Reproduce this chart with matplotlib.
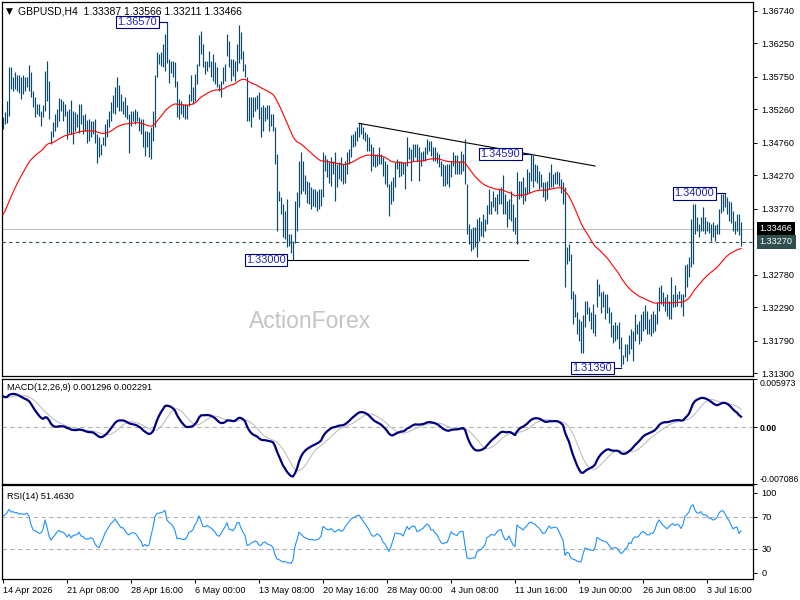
import numpy as np
import matplotlib
matplotlib.use("Agg")
import matplotlib.pyplot as plt
import matplotlib.transforms as mtransforms

#======================
# data (GBPUSD H4 bars)
#======================
highs = [
1.3515, 1.3522, 1.3539, 1.3589, 1.3589, 1.3574, 1.3582, 1.3577, 1.3577, 1.3574,
1.3577, 1.3574, 1.3574, 1.3593, 1.3582, 1.3554, 1.3544, 1.3534, 1.3534, 1.3524,
1.3532, 1.3584, 1.3599, 1.3569, 1.3494, 1.3507, 1.3519, 1.3527, 1.3543, 1.3542,
1.3539, 1.3534, 1.3524, 1.3527, 1.3540, 1.3524, 1.3522, 1.3519, 1.3534, 1.3534,
1.3517, 1.3519, 1.3510, 1.3512, 1.3509, 1.3509, 1.3512, 1.3489, 1.3484, 1.3474,
1.3484, 1.3504, 1.3512, 1.3524, 1.3537, 1.3547, 1.3559, 1.3575, 1.3562, 1.3549,
1.3539, 1.3544, 1.3532, 1.3519, 1.3524, 1.3524, 1.3527, 1.3524, 1.3514, 1.3512,
1.3512, 1.3494, 1.3494, 1.3492, 1.3499, 1.3524, 1.3577, 1.3612, 1.3609, 1.3612,
1.3624, 1.3639, 1.3657, 1.3602, 1.3599, 1.3599, 1.3597, 1.3569, 1.3542, 1.3539,
1.3534, 1.3534, 1.3532, 1.3549, 1.3577, 1.3559, 1.3579, 1.3594, 1.3637, 1.3644,
1.3624, 1.3599, 1.3599, 1.3614, 1.3599, 1.3609, 1.3597, 1.3589, 1.3564, 1.3569,
1.3589, 1.3594, 1.3639, 1.3629, 1.3602, 1.3602, 1.3599, 1.3624, 1.3652, 1.3642,
1.3614, 1.3594, 1.3574, 1.3544, 1.3544, 1.3544, 1.3544, 1.3547, 1.3552, 1.3529,
1.3532, 1.3529, 1.3532, 1.3532, 1.3519, 1.3519, 1.3499, 1.3459, 1.3404, 1.3394,
1.3384, 1.3374, 1.3392, 1.3339, 1.3339, 1.3329, 1.3389, 1.3402, 1.3449, 1.3462,
1.3449, 1.3427, 1.3419, 1.3417, 1.3409, 1.3407, 1.3407, 1.3404, 1.3407, 1.3407,
1.3462, 1.3457, 1.3452, 1.3449, 1.3454, 1.3449, 1.3462, 1.3444, 1.3447, 1.3454,
1.3444, 1.3449, 1.3462, 1.3467, 1.3487, 1.3489, 1.3494, 1.3499, 1.3505, 1.3505,
1.3499, 1.3492, 1.3489, 1.3484, 1.3474, 1.3469, 1.3459, 1.3459, 1.3469, 1.3459,
1.3454, 1.3449, 1.3444, 1.3414, 1.3419, 1.3424, 1.3447, 1.3452, 1.3449, 1.3449,
1.3447, 1.3447, 1.3484, 1.3469, 1.3467, 1.3474, 1.3474, 1.3474, 1.3469, 1.3462,
1.3464, 1.3469, 1.3482, 1.3479, 1.3479, 1.3469, 1.3469, 1.3462, 1.3459, 1.3449,
1.3444, 1.3442, 1.3444, 1.3444, 1.3449, 1.3462, 1.3457, 1.3457, 1.3449, 1.3464,
1.3459, 1.3482, 1.3414, 1.3354, 1.3347, 1.3349, 1.3349, 1.3362, 1.3364, 1.3359,
1.3369, 1.3362, 1.3382, 1.3407, 1.3389, 1.3404, 1.3394, 1.3399, 1.3407, 1.3409,
1.3427, 1.3399, 1.3389, 1.3392, 1.3404, 1.3384, 1.3364, 1.3432, 1.3419, 1.3419,
1.3424, 1.3409, 1.3437, 1.3432, 1.3459, 1.3457, 1.3444, 1.3442, 1.3434, 1.3429,
1.3417, 1.3417, 1.3419, 1.3432, 1.3444, 1.3429, 1.3432, 1.3434, 1.3432, 1.3422,
1.3417, 1.3409, 1.3319, 1.3324, 1.3309, 1.3254, 1.3249, 1.3222, 1.3212, 1.3209,
1.3217, 1.3239, 1.3239, 1.3229, 1.3222, 1.3234, 1.3219, 1.3272, 1.3264, 1.3252,
1.3254, 1.3249, 1.3249, 1.3229, 1.3222, 1.3202, 1.3207, 1.3202, 1.3207, 1.3184,
1.3157, 1.3174, 1.3174, 1.3187, 1.3197, 1.3194, 1.3219, 1.3204, 1.3209, 1.3219,
1.3224, 1.3232, 1.3224, 1.3212, 1.3219, 1.3224, 1.3219, 1.3237, 1.3259, 1.3262,
1.3252, 1.3244, 1.3249, 1.3239, 1.3274, 1.3249, 1.3262, 1.3249, 1.3254, 1.3249,
1.3249, 1.3292, 1.3294, 1.3304, 1.3362, 1.3384, 1.3384, 1.3364, 1.3354, 1.3364,
1.3379, 1.3364, 1.3359, 1.3357, 1.3354, 1.3357, 1.3352, 1.3354, 1.3377, 1.3399,
1.3399, 1.3400, 1.3394, 1.3389, 1.3387, 1.3374, 1.3359, 1.3369, 1.3369, 1.33566]

lows = [
1.3496, 1.3504, 1.3506, 1.3516, 1.3556, 1.3554, 1.3556, 1.3554, 1.3551, 1.3541,
1.3549, 1.3554, 1.3559, 1.3554, 1.3544, 1.3529, 1.3514, 1.3519, 1.3516, 1.3501,
1.3514, 1.3524, 1.3539, 1.3511, 1.3474, 1.3484, 1.3494, 1.3499, 1.3509, 1.3524,
1.3509, 1.3516, 1.3481, 1.3491, 1.3489, 1.3474, 1.3494, 1.3499, 1.3491, 1.3504,
1.3489, 1.3494, 1.3476, 1.3479, 1.3484, 1.3489, 1.3476, 1.3445, 1.3454, 1.3458,
1.3473, 1.3471, 1.3484, 1.3499, 1.3509, 1.3521, 1.3519, 1.3529, 1.3524, 1.3524,
1.3519, 1.3514, 1.3511, 1.3461, 1.3501, 1.3509, 1.3504, 1.3509, 1.3494, 1.3489,
1.3469, 1.3456, 1.3469, 1.3454, 1.3451, 1.3479, 1.3499, 1.3574, 1.3594, 1.3591,
1.3589, 1.3584, 1.3596, 1.3566, 1.3581, 1.3574, 1.3559, 1.3514, 1.3511, 1.3519,
1.3514, 1.3511, 1.3511, 1.3531, 1.3539, 1.3534, 1.3539, 1.3564, 1.3591, 1.3609,
1.3589, 1.3579, 1.3584, 1.3589, 1.3574, 1.3569, 1.3564, 1.3559, 1.3554, 1.3544,
1.3564, 1.3569, 1.3606, 1.3589, 1.3569, 1.3576, 1.3569, 1.3584, 1.3596, 1.3601,
1.3584, 1.3574, 1.3509, 1.3509, 1.3499, 1.3514, 1.3524, 1.3526, 1.3511, 1.3484,
1.3494, 1.3509, 1.3511, 1.3494, 1.3501, 1.3494, 1.3444, 1.3344, 1.3389, 1.3369,
1.3334, 1.3331, 1.3319, 1.3321, 1.3311, 1.3300, 1.3326, 1.3344, 1.3379, 1.3399,
1.3404, 1.3399, 1.3386, 1.3384, 1.3376, 1.3381, 1.3379, 1.3374, 1.3376, 1.3381,
1.3394, 1.3434, 1.3424, 1.3416, 1.3411, 1.3429, 1.3389, 1.3409, 1.3421, 1.3419,
1.3414, 1.3416, 1.3429, 1.3444, 1.3454, 1.3469, 1.3471, 1.3479, 1.3484, 1.3489,
1.3481, 1.3479, 1.3464, 1.3464, 1.3434, 1.3441, 1.3439, 1.3441, 1.3444, 1.3444,
1.3426, 1.3414, 1.3409, 1.3366, 1.3384, 1.3389, 1.3409, 1.3436, 1.3424, 1.3426,
1.3429, 1.3406, 1.3441, 1.3451, 1.3419, 1.3449, 1.3454, 1.3449, 1.3419, 1.3441,
1.3449, 1.3449, 1.3459, 1.3464, 1.3456, 1.3449, 1.3449, 1.3446, 1.3439, 1.3426,
1.3411, 1.3411, 1.3414, 1.3409, 1.3424, 1.3441, 1.3429, 1.3429, 1.3429, 1.3429,
1.3434, 1.3414, 1.3339, 1.3324, 1.3314, 1.3316, 1.3319, 1.3304, 1.3329, 1.3336,
1.3334, 1.3344, 1.3354, 1.3369, 1.3369, 1.3379, 1.3374, 1.3369, 1.3384, 1.3384,
1.3369, 1.3369, 1.3349, 1.3361, 1.3359, 1.3344, 1.3339, 1.3324, 1.3391, 1.3394,
1.3384, 1.3389, 1.3399, 1.3401, 1.3419, 1.3409, 1.3419, 1.3416, 1.3406, 1.3409,
1.3394, 1.3389, 1.3391, 1.3406, 1.3409, 1.3409, 1.3414, 1.3414, 1.3411, 1.3401,
1.3384, 1.3259, 1.3294, 1.3299, 1.3241, 1.3204, 1.3214, 1.3189, 1.3179, 1.3161,
1.3161, 1.3199, 1.3219, 1.3209, 1.3196, 1.3191, 1.3186, 1.3229, 1.3246, 1.3221,
1.3229, 1.3211, 1.3221, 1.3206, 1.3184, 1.3176, 1.3179, 1.3181, 1.3166, 1.3139,
1.3144, 1.3154, 1.3149, 1.3159, 1.3166, 1.3149, 1.3179, 1.3189, 1.3174, 1.3179,
1.3194, 1.3196, 1.3189, 1.3189, 1.3186, 1.3191, 1.3194, 1.3204, 1.3224, 1.3234,
1.3231, 1.3224, 1.3216, 1.3211, 1.3211, 1.3229, 1.3229, 1.3231, 1.3241, 1.3229,
1.3216, 1.3244, 1.3259, 1.3274, 1.3289, 1.3294, 1.3339, 1.3344, 1.3334, 1.3344,
1.3344, 1.3339, 1.3344, 1.3341, 1.3329, 1.3334, 1.3329, 1.3339, 1.3339, 1.3371,
1.3374, 1.3379, 1.3369, 1.3359, 1.3356, 1.3344, 1.3339, 1.3344, 1.3337, 1.33211]

closes = [
1.3510, 1.3520, 1.3537, 1.3573, 1.3565, 1.3568, 1.3565, 1.3566, 1.3562, 1.3566,
1.3564, 1.3566, 1.3572, 1.3565, 1.3545, 1.3530, 1.3526, 1.3524, 1.3518, 1.3520,
1.3530, 1.3570, 1.3548, 1.3512, 1.3490, 1.3502, 1.3512, 1.3524, 1.3532, 1.3526,
1.3525, 1.3518, 1.3505, 1.3515, 1.3500, 1.3508, 1.3510, 1.3512, 1.3520, 1.3506,
1.3505, 1.3496, 1.3495, 1.3496, 1.3499, 1.3494, 1.3478, 1.3466, 1.3462, 1.3472,
1.3482, 1.3498, 1.3508, 1.3520, 1.3532, 1.3540, 1.3552, 1.3545, 1.3538, 1.3530,
1.3530, 1.3522, 1.3514, 1.3510, 1.3515, 1.3516, 1.3515, 1.3510, 1.3500, 1.3494,
1.3476, 1.3480, 1.3474, 1.3476, 1.3496, 1.3520, 1.3575, 1.3600, 1.3602, 1.3606,
1.3612, 1.3626, 1.3598, 1.3590, 1.3586, 1.3578, 1.3562, 1.3525, 1.3528, 1.3524,
1.3522, 1.3521, 1.3530, 1.3546, 1.3548, 1.3556, 1.3576, 1.3592, 1.3628, 1.3612,
1.3592, 1.3590, 1.3597, 1.3592, 1.3588, 1.3582, 1.3574, 1.3562, 1.3558, 1.3566,
1.3580, 1.3592, 1.3612, 1.3590, 1.3588, 1.3585, 1.3596, 1.3620, 1.3622, 1.3604,
1.3588, 1.3576, 1.3520, 1.3522, 1.3528, 1.3532, 1.3536, 1.3532, 1.3514, 1.3512,
1.3520, 1.3522, 1.3514, 1.3510, 1.3506, 1.3496, 1.3446, 1.3400, 1.3390, 1.3372,
1.3350, 1.3352, 1.3330, 1.3326, 1.3316, 1.3325, 1.3370, 1.3398, 1.3440, 1.3428,
1.3414, 1.3404, 1.3400, 1.3394, 1.3393, 1.3392, 1.3390, 1.3392, 1.3394, 1.3404,
1.3445, 1.3440, 1.3434, 1.3432, 1.3438, 1.3432, 1.3426, 1.3432, 1.3436, 1.3430,
1.3432, 1.3444, 1.3455, 1.3465, 1.3478, 1.3483, 1.3488, 1.3494, 1.3498, 1.3492,
1.3486, 1.3480, 1.3474, 1.3466, 1.3454, 1.3449, 1.3450, 1.3455, 1.3452, 1.3446,
1.3432, 1.3426, 1.3412, 1.3395, 1.3405, 1.3420, 1.3440, 1.3440, 1.3438, 1.3438,
1.3432, 1.3444, 1.3460, 1.3452, 1.3460, 1.3464, 1.3462, 1.3450, 1.3452, 1.3456,
1.3459, 1.3466, 1.3472, 1.3469, 1.3460, 1.3460, 1.3454, 1.3450, 1.3440, 1.3430,
1.3426, 1.3428, 1.3428, 1.3436, 1.3448, 1.3444, 1.3442, 1.3440, 1.3446, 1.3448,
1.3448, 1.3416, 1.3342, 1.3332, 1.3332, 1.3334, 1.3332, 1.3345, 1.3348, 1.3350,
1.3354, 1.3360, 1.3378, 1.3380, 1.3386, 1.3384, 1.3384, 1.3392, 1.3396, 1.3398,
1.3384, 1.3372, 1.3372, 1.3380, 1.3366, 1.3352, 1.3345, 1.3416, 1.3408, 1.3404,
1.3398, 1.3408, 1.3416, 1.3430, 1.3434, 1.3430, 1.3428, 1.3422, 1.3418, 1.3410,
1.3402, 1.3404, 1.3414, 1.3426, 1.3420, 1.3422, 1.3424, 1.3422, 1.3414, 1.3402,
1.3390, 1.3300, 1.3310, 1.3300, 1.3245, 1.3225, 1.3218, 1.3195, 1.3186, 1.3180,
1.3205, 1.3228, 1.3222, 1.3212, 1.3210, 1.3205, 1.3215, 1.3255, 1.3248, 1.3240,
1.3234, 1.3232, 1.3226, 1.3210, 1.3190, 1.3190, 1.3192, 1.3188, 1.3170, 1.3150,
1.3154, 1.3162, 1.3166, 1.3180, 1.3175, 1.3190, 1.3196, 1.3194, 1.3198, 1.3208,
1.3212, 1.3208, 1.3202, 1.3202, 1.3206, 1.3206, 1.3216, 1.3234, 1.3248, 1.3242,
1.3236, 1.3232, 1.3228, 1.3235, 1.3240, 1.3244, 1.3240, 1.3244, 1.3242, 1.3236,
1.3246, 1.3276, 1.3286, 1.3300, 1.3350, 1.3370, 1.3356, 1.3348, 1.3350, 1.3360,
1.3352, 1.3352, 1.3350, 1.3344, 1.3344, 1.3340, 1.3344, 1.3352, 1.3375, 1.3388,
1.3390, 1.3384, 1.3376, 1.3370, 1.3360, 1.3350, 1.3354, 1.3356, 1.33387, 1.33466]

# indicator state carried in from before the first visible bar
ma_start = 1.3362
ema12_start = 1.3495
ema26_start = 1.3455
signal_start = 0.0036
rsi_prev_close = 1.3500
rsi_gain_start = 0.0009
rsi_loss_start = 0.0004

# x axis
date_ticks = [0, 32, 64, 96, 128, 160, 192, 224, 256, 288, 320, 352]
date_labels = ["14 Apr 2026", "21 Apr 08:00", "28 Apr 16:00", "6 May 00:00",
               "13 May 08:00", "20 May 16:00", "28 May 00:00", "4 Jun 08:00",
               "11 Jun 16:00", "19 Jun 00:00", "26 Jun 08:00", "3 Jul 16:00"]
price_ticks = [1.36740, 1.36250, 1.35750, 1.35260, 1.34760, 1.34270,
               1.33770, 1.32780, 1.32290, 1.31790, 1.31300]
macd_ticks = [-0.007086, 0.0, 0.005973]
rsi_ticks = [0, 30, 70, 100]

# drawn objects on the chart
bid_price = 1.33466
level_price = 1.33270
trend_k = [178, 296]
trend_p = [1.3505, 1.3441]
support_k = [142, 262.5]
support_p = [1.3300, 1.3300]
# (text, bar where box ends, bar of the pivot, price)
pivot_labels = [("1.36570", 77.2, 82, 1.3657),
                ("1.34590", 258.6, 264, 1.3459),
                ("1.34000", 355.6, 361, 1.3400),
                ("1.31390", 304.6, 309, 1.3138),
                ("1.33000", 141.5, 142, 1.3300)]

#======================
# indicators
#======================
def ema(values, period, start):
    a = 2.0 / (period + 1)
    out = []
    prev = start
    for v in values:
        prev = prev + a * (v - prev)
        out.append(prev)
    return np.array(out)

def rsi(values, period, prev, g, l):
    out = []
    for v in values:
        d = v - prev
        g = (g * (period - 1) + max(d, 0)) / period
        l = (l * (period - 1) + max(-d, 0)) / period
        out.append(100 - 100 / (1 + g / l))
        prev = v
    return np.array(out)

closes_a = np.array(closes)
k = np.arange(len(closes))
ma = ema(closes_a, 50, ma_start)
macd = ema(closes_a, 12, ema12_start) - ema(closes_a, 26, ema26_start)
padded = np.concatenate([np.full(8, signal_start), macd])
signal = np.convolve(padded, np.ones(9) / 9, mode="valid")
rsi14 = rsi(closes, 14, rsi_prev_close, rsi_gain_start, rsi_loss_start)

#======================
# figure
#======================
FONT = ['Liberation Sans', 'DejaVu Sans']
plt.rcParams['font.family'] = FONT
fs = 6.6
bar_col = '#0c4a6c'

fig = plt.figure(figsize=(8, 6), dpi=100)
W, H = 800.0, 600.0
ax = fig.add_axes([2 / W, 1 - 376 / H, 751 / W, 374 / H])
ax_m = fig.add_axes([2 / W, 1 - 484 / H, 751 / W, 105 / H])
ax_r = fig.add_axes([2 / W, 1 - 579 / H, 751 / W, 94 / H])

for a in (ax, ax_m, ax_r):
    a.set_xlim(-0.5, 375)
    a.yaxis.tick_right()
    a.tick_params(axis='y', direction='out', length=3, width=0.7,
                  labelsize=fs, pad=3)
    a.set_xticks([])
    for s in a.spines.values():
        s.set_linewidth(0.9)
        s.set_color('black')

# main price panel
ax.set_ylim(1.3126, 1.3687)
ax.axhline(bid_price, color='#c0c0c0', lw=0.8, zorder=1)
ax.axhline(level_price, color='#2f4f4f', lw=0.8, ls=(0, (3, 3)), zorder=1)
ax.vlines(k, lows, highs, color=bar_col, lw=0.85, zorder=2)
ax.plot(k, ma, color='red', lw=0.8, zorder=3)
ax.plot(trend_k, trend_p, color='black', lw=0.8, zorder=3)
ax.plot(support_k, support_p, color='black', lw=0.8, zorder=3)
ax.set_yticks(price_ticks)
ax.set_yticklabels(["%.5f" % p for p in price_ticks])

box = dict(boxstyle='square,pad=0.12', fc='white', ec='#000080', lw=0.8)
for txt, kx, kp, p in pivot_labels:
    ax.text(kx, p, txt, ha='right', va='center', fontsize=7.9,
            color='#2424b8', bbox=box, zorder=5)
    ax.plot([kx, kp], [p, p], color='#000080', lw=0.8, zorder=4)

ax.text(0.41, 0.145, "ActionForex", transform=ax.transAxes, ha='center',
        va='center', fontsize=16.5, color='#c4c4c4', zorder=0)

# price boxes on the right scale
yx = mtransforms.blended_transform_factory(ax.transAxes, ax.transData)
for p, col in ((bid_price, 'black'), (level_price, '#2f4f4f')):
    ax.text(1.009, p, "%.5f" % p, transform=yx, ha='left', va='center',
            fontsize=fs, color='white', clip_on=False,
            bbox=dict(boxstyle='square,pad=0.3', fc=col, ec='none'))

fig.text(6 / W, 1 - 11 / H, "\u25bc", fontsize=6.5, va='center', ha='left',
         family='DejaVu Sans')
fig.text(18 / W, 1 - 11 / H, "GBPUSD,H4  1.33387 1.33566 1.33211 1.33466",
         fontsize=7.5, va='center', ha='left')

# MACD panel
ax_m.set_ylim(-0.007086, 0.005973)
ax_m.axhline(0, color='#b4b4b4', lw=0.8, ls=(0, (4, 3)))
ax_m.plot(k, signal, color='#c0c0c0', lw=0.8)
ax_m.plot(k, macd, color='#000080', lw=1.6)
ax_m.set_yticks(macd_ticks)
ax_m.set_yticklabels(["-0.007086", "0.00", "0.005973"])
ax_m.tick_params(axis='y', labelsize=fs - 0.3, pad=1.5)
labs = ax_m.get_yticklabels()
labs[0].set_va('bottom')
labs[1].set_fontweight('bold')
labs[2].set_va('top')
ax_m.text(0.007, 0.92, "MACD(12,26,9) 0.001296 0.002291", transform=ax_m.transAxes,
          fontsize=fs, va='center', ha='left')

# RSI panel
ax_r.set_ylim(-7.5, 110)
for lv in (30, 70):
    ax_r.axhline(lv, color='#b4b4b4', lw=0.8, ls=(0, (4, 3)))
ax_r.plot(k, rsi14, color='#1e90ff', lw=0.8)
ax_r.set_yticks(rsi_ticks)
ax_r.set_yticklabels([str(v) for v in rsi_ticks])
ax_r.text(0.007, 0.88, "RSI(14) 51.4630", transform=ax_r.transAxes,
          fontsize=fs, va='center', ha='left')
ax_r.set_xticks(date_ticks)
ax_r.set_xticklabels(date_labels, ha='left')
ax_r.tick_params(axis='x', direction='out', length=3, width=0.7,
                 labelsize=fs, pad=2)

fig.savefig("out.png", dpi=100)
